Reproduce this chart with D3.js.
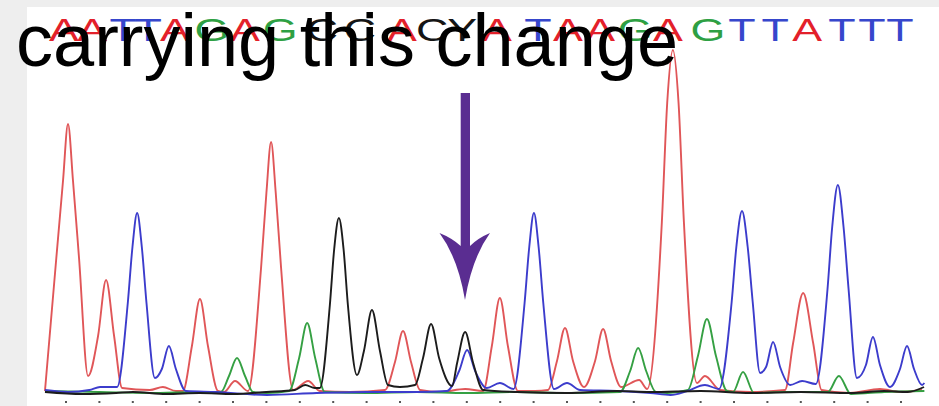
<!DOCTYPE html>
<html>
<head>
<meta charset="utf-8">
<script src="https://cdn.jsdelivr.net/npm/d3@7"></script>
<style>
  html, body { margin: 0; padding: 0; background: #ffffff; }
  svg { display: block; }
</style>
</head>
<body>
<svg id="chart" width="939" height="406"></svg>
<script>
// ---------------- DATA ----------------
// Base calls and their positions (in base units along the trace)
const bases = ["A","A","T","T","A","G","A","G","C","C","A","C","Y","A","T","A","A","G","A","G","T","T","A","T","T","T"];
const callPos = [-0.06,0.78,1.71,2.46,3.26,4.37,5.36,6.41,7.66,8.80,10.06,10.96,11.86,12.90,14.13,15.03,15.99,17.04,18.02,19.22,20.24,21.23,22.19,23.23,24.13,24.97];
// Base-spacing tick marks (base index)
const tickPos = [0,1,2,3,4,5,6,7,8,9,10,11,12,13,14,15,16,17,18,19,20,21,22,23,24,25];

// Trace samples per channel: [position (base units), signal]
const traceA = [
[-0.63,2],[-0.29,135],[-0.09,212],[0.06,269],[0.21,212],[0.39,135],[0.66,17],[0.96,57],[1.20,113],[1.44,57],[1.68,5],[2.51,3],[2.90,6],[3.29,2],[3.50,2],[3.77,47],[4.01,94],[4.25,47],[4.55,2],[4.73,1],[5.06,12],[5.45,2],[5.84,125],[6.00,200],[6.14,251],[6.28,200],[6.44,125],[6.80,3],[7.25,12],[7.60,2],[8.50,1],[9.55,3],[9.85,31],[10.09,62],[10.33,31],[10.60,3],[11.20,1],[11.95,4],[12.49,2],[12.75,47],[12.99,95],[13.23,47],[13.53,2],[14.04,2],[14.43,3],[14.70,32],[14.94,65],[15.18,32],[15.51,6],[15.84,32],[16.08,64],[16.32,32],[16.62,6],[17.16,13],[17.40,4],[17.84,171],[18.00,290],[18.17,343],[18.34,290],[18.50,171],[18.89,10],[19.13,17],[19.58,3],[20.48,1],[21.53,3],[21.77,50],[22.07,100],[22.37,50],[22.62,3],[23.47,0],[24.37,4],[24.97,1],[25.63,3]
];
const traceT = [
[-0.63,3],[0.06,1],[0.70,3],[1.02,6],[1.30,6],[1.53,6],[1.85,90],[1.99,146],[2.13,180],[2.27,146],[2.41,90],[2.66,15],[2.87,24],[3.08,47],[3.29,24],[3.59,2],[4.5,1],[6.02,-2],[7.5,0],[9.0,1],[10.5,1],[11.4,2],[11.77,22],[12.01,43],[12.25,22],[12.60,5],[12.99,10],[13.40,4],[13.73,90],[13.87,146],[14.01,180],[14.15,146],[14.29,90],[14.61,4],[15.00,10],[15.39,3],[16.5,2],[17.5,0],[18.1,-2],[18.6,2],[19.13,8],[19.55,4],[19.93,91],[20.07,146],[20.24,182],[20.41,146],[20.56,91],[20.78,20],[20.96,26],[21.17,51],[21.38,26],[21.68,8],[22.04,12],[22.45,9],[22.80,104],[22.94,166],[23.11,208],[23.28,166],[23.43,104],[23.68,15],[23.95,28],[24.16,56],[24.37,28],[24.67,6],[24.97,24],[25.18,47],[25.39,24],[25.63,8],[25.70,10]
];
const traceG = [
[-0.63,2],[1.0,1],[2.5,0],[4.0,1],[4.64,1],[4.88,17],[5.12,35],[5.36,17],[5.60,1],[6.0,0],[6.68,2],[6.98,35],[7.22,70],[7.46,35],[7.75,1],[9.0,0],[10.5,1],[12.0,0],[13.5,1],[15.0,0],[16.59,1],[16.89,22],[17.13,45],[17.37,22],[17.66,1],[18.0,0],[18.62,3],[18.92,37],[19.19,74],[19.46,37],[19.79,2],[19.97,1],[20.27,21],[20.60,0],[21.5,1],[22.81,1],[23.14,17],[23.50,-1],[24.5,1],[25.70,2]
];
const traceC = [
[-0.63,1],[0.5,-1],[1.5,0],[2.0,1],[3.0,-1],[4.0,0],[5.0,-1],[6.0,1],[6.85,3],[7.16,8],[7.45,5],[7.60,5],[7.90,88],[8.03,144],[8.17,175],[8.31,144],[8.44,88],[8.71,18],[8.92,42],[9.16,83],[9.40,42],[9.64,8],[10.0,6],[10.45,8],[10.69,35],[10.93,69],[11.17,35],[11.56,7],[11.71,30],[11.95,61],[12.19,30],[12.49,3],[13.5,1],[15.0,0],[16.5,2],[17.5,1],[19.0,2],[20.5,0],[22.0,1],[23.5,0],[24.5,2],[25.2,1],[25.69,6]
];
const caption = "carrying this change";

// ---------------- STYLE ----------------
const W = 939, H = 406;
const traceColor = { A: "#e05658", T: "#3c3ccc", G: "#35a043", C: "#1c1c1c" };
const letterColor = { A: "#e3202a", T: "#3646cc", G: "#2ea043", C: "#151515", Y: "#151515" };

const svg = d3.select("#chart");

// background and grey frame strips
svg.append("rect").attr("width", W).attr("height", H).attr("fill", "#ffffff");
svg.append("rect").attr("x", 0).attr("y", 0).attr("width", W).attr("height", 7).attr("fill", "#eeeeee");
svg.append("rect").attr("x", 0).attr("y", 0).attr("width", 27).attr("height", H).attr("fill", "#eeeeee");

// scales
const x = d3.scaleLinear().domain([0, 25]).range([66, 901]);
const y = d3.scaleLinear().domain([0, 343]).range([393, 50]);

const line = d3.line()
  .x(d => x(d[0]))
  .y(d => y(d[1]))
  .curve(d3.curveMonotoneX);

const traces = [
  { key: "A", data: traceA },
  { key: "G", data: traceG },
  { key: "T", data: traceT },
  { key: "C", data: traceC }
];

svg.append("g").selectAll("path")
  .data(traces)
  .join("path")
  .attr("d", d => line(d.data))
  .attr("fill", "none")
  .attr("stroke", d => traceColor[d.key])
  .attr("stroke-width", 1.9)
  .attr("stroke-linejoin", "round");

// base spacing dots
svg.append("g").selectAll("rect")
  .data(tickPos)
  .join("rect")
  .attr("x", d => x(d) - 1)
  .attr("y", 401)
  .attr("width", 2)
  .attr("height", 2)
  .attr("fill", "#555555");

// base-call letters
svg.append("g").selectAll("text")
  .data(bases.map((b, i) => ({ b, p: callPos[i] })))
  .join("text")
  .attr("transform", d => `translate(${x(d.p)},41) scale(1.4,1)`)
  .attr("text-anchor", "middle")
  .attr("font-family", "'Liberation Sans', Arial, sans-serif")
  .attr("font-size", 32)
  .attr("fill", d => letterColor[d.b])
  .text(d => d.b);

// arrow
svg.append("path")
  .attr("d", "M460.7,93 L470,93 L470,246 Q478,238 490,233 Q472,258 465,300 Q458,258 439.5,233 Q452,238 460.7,246 Z")
  .attr("fill", "#5a2d91");

// caption
svg.append("text")
  .attr("x", 16)
  .attr("y", 66)
  .attr("font-family", "'Liberation Sans', Arial, sans-serif")
  .attr("font-size", 74)
  .attr("fill", "#000000")
  .text(caption);
</script>
</body>
</html>
